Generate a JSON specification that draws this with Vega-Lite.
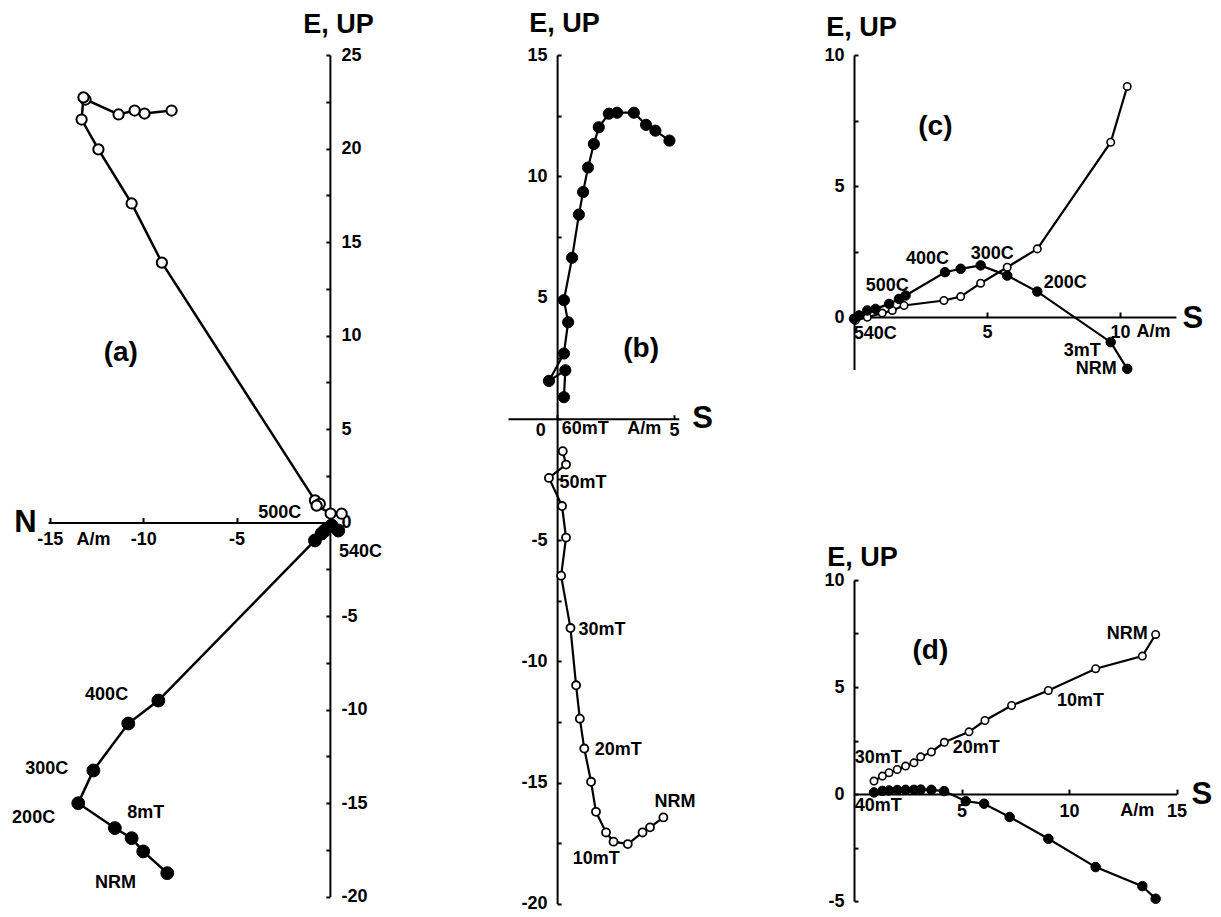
{
  "$schema": "https://vega.github.io/schema/vega-lite/v6.json",
  "background": "white",
  "padding": {"left": 12, "top": 9, "right": 5, "bottom": 5},
  "config": {
    "view": {"stroke": null},
    "font": "Liberation Sans",
    "axis": {"grid": false, "domainColor": "black", "domainWidth": 2, "tickColor": "black", "tickWidth": 2, "labelColor": "black", "labelFont": "Liberation Sans", "labelFontSize": 18, "labelFontWeight": "bold", "labelFlush": false, "labelOverlap": false, "titleColor": "black", "titleFont": "Liberation Sans"},
    "text": {"font": "Liberation Sans", "color": "black"}
  },
  "datasets": {
    "a": [
      {"s":"open","i":1,"u":-8.48,"v":22.03},{"s":"open","i":2,"u":-9.93,"v":21.87},{"s":"open","i":3,"u":-10.46,"v":22.03},{"s":"open","i":4,"u":-11.32,"v":21.82},{"s":"open","i":5,"u":-13.09,"v":22.62},{"s":"open","i":6,"u":-13.2,"v":22.73},{"s":"open","i":7,"u":-13.3,"v":21.55},{"s":"open","i":8,"u":-12.4,"v":19.95},{"s":"open","i":9,"u":-10.62,"v":17.06},{"s":"open","i":10,"u":-9.0,"v":13.9},{"s":"open","i":11,"u":-0.8,"v":1.18},{"s":"open","i":12,"u":-0.54,"v":1.0},{"s":"open","i":13,"u":-0.71,"v":0.9},{"s":"open","i":14,"u":0.04,"v":0.48},{"s":"open","i":15,"u":0.63,"v":0.47},
      {"s":"filled","i":1,"u":-8.71,"v":-18.75},{"s":"filled","i":2,"u":-10.0,"v":-17.59},{"s":"filled","i":3,"u":-10.62,"v":-16.88},{"s":"filled","i":4,"u":-11.52,"v":-16.34},{"s":"filled","i":5,"u":-13.48,"v":-15.01},{"s":"filled","i":6,"u":-12.67,"v":-13.26},{"s":"filled","i":7,"u":-10.8,"v":-10.75},{"s":"filled","i":8,"u":-9.19,"v":-9.52},{"s":"filled","i":9,"u":-0.8,"v":-0.96},{"s":"filled","i":10,"u":-0.44,"v":-0.59},{"s":"filled","i":11,"u":-0.27,"v":-0.43},{"s":"filled","i":12,"u":0.09,"v":-0.16},{"s":"filled","i":13,"u":0.45,"v":-0.43}
    ],
    "a_lab": [
      {"k":"lab","t":"500C","u":-2.69,"v":0.53},{"k":"lab","t":"540C","u":1.64,"v":-1.6},{"k":"lab","t":"400C","u":-11.96,"v":-9.25},{"k":"lab","t":"300C","u":-15.17,"v":-13.16},{"k":"lab","t":"200C","u":-15.87,"v":-15.78},{"k":"lab","t":"8mT","u":-9.87,"v":-15.56},{"k":"lab","t":"NRM","u":-11.48,"v":-19.3},{"k":"lab","t":"A/m","u":-12.66,"v":-0.91},{"k":"tag","t":"(a)","u":-11.2,"v":9.09}
    ],
    "b": [
      {"s":"filled","i":1,"u":4.8,"v":11.47},{"s":"filled","i":2,"u":4.2,"v":11.88},{"s":"filled","i":3,"u":3.8,"v":12.12},{"s":"filled","i":4,"u":3.28,"v":12.62},{"s":"filled","i":5,"u":2.56,"v":12.62},{"s":"filled","i":6,"u":2.21,"v":12.58},{"s":"filled","i":7,"u":1.78,"v":12.02},{"s":"filled","i":8,"u":1.57,"v":11.33},{"s":"filled","i":9,"u":1.32,"v":10.36},{"s":"filled","i":10,"u":1.11,"v":9.35},{"s":"filled","i":11,"u":0.93,"v":8.42},{"s":"filled","i":12,"u":0.64,"v":6.64},{"s":"filled","i":13,"u":0.29,"v":4.89},{"s":"filled","i":14,"u":0.47,"v":3.98},{"s":"filled","i":15,"u":0.29,"v":2.69},{"s":"filled","i":16,"u":-0.35,"v":1.56},{"s":"filled","i":17,"u":0.35,"v":2.0},{"s":"filled","i":18,"u":0.29,"v":0.89},
      {"s":"open","i":1,"u":4.54,"v":-16.44},{"s":"open","i":2,"u":3.97,"v":-16.85},{"s":"open","i":3,"u":3.65,"v":-17.06},{"s":"open","i":4,"u":3.02,"v":-17.54},{"s":"open","i":5,"u":2.41,"v":-17.44},{"s":"open","i":6,"u":2.09,"v":-17.06},{"s":"open","i":7,"u":1.66,"v":-16.21},{"s":"open","i":8,"u":1.45,"v":-14.97},{"s":"open","i":9,"u":1.16,"v":-13.6},{"s":"open","i":10,"u":0.97,"v":-12.37},{"s":"open","i":11,"u":0.81,"v":-10.99},{"s":"open","i":12,"u":0.57,"v":-8.63},{"s":"open","i":13,"u":0.17,"v":-6.47},{"s":"open","i":14,"u":0.38,"v":-4.9},{"s":"open","i":15,"u":0.21,"v":-3.6},{"s":"open","i":16,"u":-0.35,"v":-2.44},{"s":"open","i":17,"u":0.38,"v":-1.89},{"s":"open","i":18,"u":0.24,"v":-1.34}
    ],
    "b_lab": [
      {"k":"lab","t":"60mT","u":1.2,"v":-0.41},{"k":"lab","t":"A/m","u":3.72,"v":-0.41},{"k":"lab","t":"50mT","u":1.11,"v":-2.67},{"k":"lab","t":"30mT","u":1.92,"v":-8.71},{"k":"lab","t":"20mT","u":2.61,"v":-13.65},{"k":"lab","t":"10mT","u":1.67,"v":-18.17},{"k":"lab","t":"NRM","u":5.04,"v":-15.82},{"k":"tag","t":"(b)","u":3.59,"v":2.89}
    ],
    "c": [
      {"s":"open","i":1,"u":10.27,"v":8.8},{"s":"open","i":2,"u":9.65,"v":6.67},{"s":"open","i":3,"u":6.89,"v":2.6},{"s":"open","i":4,"u":5.76,"v":1.9},{"s":"open","i":5,"u":4.76,"v":1.29},{"s":"open","i":6,"u":4.01,"v":0.78},{"s":"open","i":7,"u":3.38,"v":0.63},{"s":"open","i":8,"u":1.88,"v":0.44},{"s":"open","i":9,"u":1.44,"v":0.25},{"s":"open","i":10,"u":1.06,"v":0.15},{"s":"open","i":11,"u":0.5,"v":-0.01},{"s":"open","i":12,"u":0.05,"v":-0.13},
      {"s":"filled","i":1,"u":10.27,"v":-1.98},{"s":"filled","i":2,"u":9.65,"v":-0.96},{"s":"filled","i":3,"u":6.89,"v":0.97},{"s":"filled","i":4,"u":5.76,"v":1.58},{"s":"filled","i":5,"u":4.76,"v":1.97},{"s":"filled","i":6,"u":4.01,"v":1.84},{"s":"filled","i":7,"u":3.42,"v":1.71},{"s":"filled","i":8,"u":1.94,"v":0.82},{"s":"filled","i":9,"u":1.69,"v":0.69},{"s":"filled","i":10,"u":1.32,"v":0.5},{"s":"filled","i":11,"u":0.81,"v":0.31},{"s":"filled","i":12,"u":0.5,"v":0.25},{"s":"filled","i":13,"u":0.19,"v":0.06},{"s":"filled","i":14,"u":0.0,"v":-0.07}
    ],
    "c_lab": [
      {"k":"lab","t":"400C","u":2.76,"v":2.23},{"k":"lab","t":"300C","u":5.2,"v":2.42},{"k":"lab","t":"200C","u":7.94,"v":1.28},{"k":"lab","t":"500C","u":1.25,"v":1.2},{"k":"lab","t":"540C","u":0.8,"v":-0.63},{"k":"lab","t":"3mT","u":8.58,"v":-1.28},{"k":"lab","t":"NRM","u":9.11,"v":-1.97},{"k":"lab","t":"A/m","u":11.26,"v":-0.59},{"k":"tag","t":"(c)","u":3.06,"v":7.27}
    ],
    "d": [
      {"s":"open","i":1,"u":14.03,"v":7.46},{"s":"open","i":2,"u":13.41,"v":6.45},{"s":"open","i":3,"u":11.24,"v":5.86},{"s":"open","i":4,"u":9.04,"v":4.84},{"s":"open","i":5,"u":7.33,"v":4.14},{"s":"open","i":6,"u":6.09,"v":3.44},{"s":"open","i":7,"u":5.35,"v":2.91},{"s":"open","i":8,"u":4.2,"v":2.42},{"s":"open","i":9,"u":3.6,"v":1.97},{"s":"open","i":10,"u":3.1,"v":1.74},{"s":"open","i":11,"u":2.79,"v":1.46},{"s":"open","i":12,"u":2.4,"v":1.31},{"s":"open","i":13,"u":2.01,"v":1.15},{"s":"open","i":14,"u":1.63,"v":1.0},{"s":"open","i":15,"u":1.32,"v":0.84},{"s":"open","i":16,"u":0.93,"v":0.61},
      {"s":"filled","i":1,"u":14.03,"v":-4.89},{"s":"filled","i":2,"u":13.41,"v":-4.3},{"s":"filled","i":3,"u":11.24,"v":-3.41},{"s":"filled","i":4,"u":9.04,"v":-2.09},{"s":"filled","i":5,"u":7.24,"v":-1.07},{"s":"filled","i":6,"u":6.05,"v":-0.45},{"s":"filled","i":7,"u":5.2,"v":-0.33},{"s":"filled","i":8,"u":4.19,"v":0.14},{"s":"filled","i":9,"u":3.6,"v":0.2},{"s":"filled","i":10,"u":3.1,"v":0.21},{"s":"filled","i":11,"u":2.79,"v":0.2},{"s":"filled","i":12,"u":2.4,"v":0.2},{"s":"filled","i":13,"u":2.01,"v":0.19},{"s":"filled","i":14,"u":1.63,"v":0.17},{"s":"filled","i":15,"u":1.32,"v":0.15},{"s":"filled","i":16,"u":0.93,"v":0.08}
    ],
    "d_lab": [
      {"k":"lab","t":"NRM","u":12.71,"v":7.48},{"k":"lab","t":"10mT","u":10.53,"v":4.35},{"k":"lab","t":"20mT","u":5.69,"v":2.15},{"k":"lab","t":"30mT","u":1.13,"v":1.68},{"k":"lab","t":"40mT","u":1.13,"v":-0.56},{"k":"lab","t":"A/m","u":13.18,"v":-0.79},{"k":"tag","t":"(d)","u":3.55,"v":6.68}
    ]
  },
  "bounds": "flush",
  "spacing": 175,
  "hconcat": [
    {
      "width": 284.5,
      "height": 841.5,
      "encoding": {
        "x": {"field": "u", "type": "quantitative", "scale": {"domain": [-15.1, 0.14], "nice": false, "zero": false},
              "axis": {"orient": "bottom", "offset": -374, "values": [-15, -10, -5], "labelExpr": "'' + datum.value", "labelFont": "Liberation Sans", "labelFontSize": 18, "labelFontWeight": "bold", "labelColor": "black", "tickSize": -5, "labelPadding": 13, "title": "N", "titleAngle": 0, "titleX": -23, "titleY": 0, "titleAlign": "center", "titleBaseline": "middle", "titleFontSize": 31, "titleFontWeight": "bold"}},
        "y": {"field": "v", "type": "quantitative", "scale": {"domain": [-20, 25], "nice": false, "zero": false},
              "axis": {"orient": "right", "offset": -2.6, "values": [-20, -17.5, -15, -12.5, -10, -7.5, -5, -2.5, 0, 2.5, 5, 7.5, 10, 12.5, 15, 17.5, 20, 22.5, 25], "labelExpr": "datum.value % 5 == 0 ? '' + datum.value : ''", "labelFont": "Liberation Sans", "labelFontSize": 18, "labelFontWeight": "bold", "labelColor": "black", "tickSize": -4, "labelPadding": 15, "title": "E, UP", "titleAngle": 0, "titleX": 8, "titleY": -31, "titleAlign": "center", "titleBaseline": "middle", "titleFontSize": 27, "titleFontWeight": "bold"}}
      },
      "layer": [
        {"data": {"name": "a"}, "mark": {"type": "line", "color": "black", "strokeWidth": 2.5}, "encoding": {"detail": {"field": "s"}, "order": {"field": "i", "type": "quantitative"}}},
        {"data": {"name": "a"}, "transform": [{"filter": "datum.s == 'open'"}], "mark": {"type": "point", "shape": "circle", "filled": true, "fill": "white", "stroke": "black", "strokeWidth": 2, "size": 105, "opacity": 1}},
        {"data": {"name": "a"}, "transform": [{"filter": "datum.s == 'filled'"}], "mark": {"type": "point", "shape": "circle", "filled": true, "fill": "black", "stroke": "black", "strokeWidth": 1, "size": 165, "opacity": 1}},
        {"data": {"name": "a_lab"}, "transform": [{"filter": "datum.k == 'lab'"}], "mark": {"type": "text", "fontSize": 18, "fontWeight": "bold", "align": "center", "baseline": "middle"}, "encoding": {"text": {"field": "t"}}},
        {"data": {"name": "a_lab"}, "transform": [{"filter": "datum.k == 'tag'"}], "mark": {"type": "text", "fontSize": 28, "fontWeight": "bold", "align": "center", "baseline": "middle"}, "encoding": {"text": {"field": "t"}}}
      ]
    },
    {
      "width": 170.8,
      "height": 848.75,
      "encoding": {
        "x": {"field": "u", "type": "quantitative", "scale": {"domain": [-2.1, 5.2], "nice": false, "zero": false},
              "axis": {"orient": "bottom", "offset": -485, "values": [0, 5], "labelExpr": "'' + datum.value", "labelFont": "Liberation Sans", "labelFontSize": 18, "labelFontWeight": "bold", "labelColor": "black", "tickSize": -4, "labelPadding": 7, "labelOffset": {"condition": {"test": "datum.value == 0", "value": -17}, "value": 0}, "title": "S", "titleAngle": 0, "titleX": 194, "titleY": 0, "titleAlign": "center", "titleBaseline": "middle", "titleFontSize": 31, "titleFontWeight": "bold"}},
        "y": {"field": "v", "type": "quantitative", "scale": {"domain": [-20, 15], "nice": false, "zero": false},
              "axis": {"orient": "left", "offset": -49.1, "values": [-20, -17.5, -15, -12.5, -10, -7.5, -5, -2.5, 0, 2.5, 5, 7.5, 10, 12.5, 15], "labelExpr": "datum.value % 5 == 0 && datum.value != 0 ? '' + datum.value : ''", "labelFont": "Liberation Sans", "labelFontSize": 18, "labelFontWeight": "bold", "labelColor": "black", "tickSize": -4, "labelPadding": 14, "title": "E, UP", "titleAngle": 0, "titleX": 7, "titleY": -31.5, "titleAlign": "center", "titleBaseline": "middle", "titleFontSize": 27, "titleFontWeight": "bold"}}
      },
      "layer": [
        {"data": {"name": "b"}, "mark": {"type": "line", "color": "black", "strokeWidth": 2.2}, "encoding": {"detail": {"field": "s"}, "order": {"field": "i", "type": "quantitative"}}},
        {"data": {"name": "b"}, "transform": [{"filter": "datum.s == 'open'"}], "mark": {"type": "point", "shape": "circle", "filled": true, "fill": "white", "stroke": "black", "strokeWidth": 1.8, "size": 65, "opacity": 1}},
        {"data": {"name": "b"}, "transform": [{"filter": "datum.s == 'filled'"}], "mark": {"type": "point", "shape": "circle", "filled": true, "fill": "black", "stroke": "black", "strokeWidth": 1, "size": 125, "opacity": 1}},
        {"data": {"name": "b_lab"}, "transform": [{"filter": "datum.k == 'lab'"}], "mark": {"type": "text", "fontSize": 18, "fontWeight": "bold", "align": "center", "baseline": "middle"}, "encoding": {"text": {"field": "t"}}},
        {"data": {"name": "b_lab"}, "transform": [{"filter": "datum.k == 'tag'"}], "mark": {"type": "text", "fontSize": 28, "fontWeight": "bold", "align": "center", "baseline": "middle"}, "encoding": {"text": {"field": "t"}}}
      ]
    },
    {
      "bounds": "flush",
      "spacing": 210.1,
      "vconcat": [
        {
          "width": 321.9,
          "height": 314.4,
          "encoding": {
            "x": {"field": "u", "type": "quantitative", "scale": {"domain": [0, 12.1], "nice": false, "zero": false},
                  "axis": {"orient": "bottom", "offset": -52.4, "values": [5, 10], "labelExpr": "'' + datum.value", "labelFont": "Liberation Sans", "labelFontSize": 18, "labelFontWeight": "bold", "labelColor": "black", "tickSize": -5, "labelPadding": 11, "title": "S", "titleAngle": 0, "titleX": 338.3, "titleY": 1.5, "titleAlign": "center", "titleBaseline": "middle", "titleFontSize": 31, "titleFontWeight": "bold"}},
            "y": {"field": "v", "type": "quantitative", "scale": {"domain": [-2, 10], "nice": false, "zero": false},
                  "axis": {"orient": "left", "offset": 0, "values": [0, 2.5, 5, 7.5, 10], "labelExpr": "datum.value % 5 == 0 ? '' + datum.value : ''", "labelFont": "Liberation Sans", "labelFontSize": 18, "labelFontWeight": "bold", "labelColor": "black", "tickSize": -4, "labelPadding": 14, "title": "E, UP", "titleAngle": 0, "titleX": 7, "titleY": -27.5, "titleAlign": "center", "titleBaseline": "middle", "titleFontSize": 27, "titleFontWeight": "bold"}}
          },
          "layer": [
            {"data": {"name": "c"}, "mark": {"type": "line", "color": "black", "strokeWidth": 2.2}, "encoding": {"detail": {"field": "s"}, "order": {"field": "i", "type": "quantitative"}}},
            {"data": {"name": "c"}, "transform": [{"filter": "datum.s == 'open'"}], "mark": {"type": "point", "shape": "circle", "filled": true, "fill": "white", "stroke": "black", "strokeWidth": 1.6, "size": 55, "opacity": 1}},
            {"data": {"name": "c"}, "transform": [{"filter": "datum.s == 'filled'"}], "mark": {"type": "point", "shape": "circle", "filled": true, "fill": "black", "stroke": "black", "strokeWidth": 1, "size": 90, "opacity": 1}},
            {"data": {"name": "c_lab"}, "transform": [{"filter": "datum.k == 'lab'"}], "mark": {"type": "text", "fontSize": 18, "fontWeight": "bold", "align": "center", "baseline": "middle"}, "encoding": {"text": {"field": "t"}}},
            {"data": {"name": "c_lab"}, "transform": [{"filter": "datum.k == 'tag'"}], "mark": {"type": "text", "fontSize": 28, "fontWeight": "bold", "align": "center", "baseline": "middle"}, "encoding": {"text": {"field": "t"}}}
          ]
        },
        {
          "width": 322.5,
          "height": 321,
          "encoding": {
            "x": {"field": "u", "type": "quantitative", "scale": {"domain": [0, 15], "nice": false, "zero": false},
                  "axis": {"orient": "bottom", "offset": -107, "values": [5, 10, 15], "labelExpr": "'' + datum.value", "labelFont": "Liberation Sans", "labelFontSize": 18, "labelFontWeight": "bold", "labelColor": "black", "tickSize": -5, "labelPadding": 13, "title": "S", "titleAngle": 0, "titleX": 347.3, "titleY": 0, "titleAlign": "center", "titleBaseline": "middle", "titleFontSize": 31, "titleFontWeight": "bold"}},
            "y": {"field": "v", "type": "quantitative", "scale": {"domain": [-5, 10], "nice": false, "zero": false},
                  "axis": {"orient": "left", "offset": 0, "values": [-5, -2.5, 0, 2.5, 5, 7.5, 10], "labelExpr": "datum.value % 5 == 0 ? '' + datum.value : ''", "labelFont": "Liberation Sans", "labelFontSize": 18, "labelFontWeight": "bold", "labelColor": "black", "tickSize": -4, "labelPadding": 14, "title": "E, UP", "titleAngle": 0, "titleX": 8, "titleY": -23, "titleAlign": "center", "titleBaseline": "middle", "titleFontSize": 27, "titleFontWeight": "bold"}}
          },
          "layer": [
            {"data": {"name": "d"}, "mark": {"type": "line", "color": "black", "strokeWidth": 2.2}, "encoding": {"detail": {"field": "s"}, "order": {"field": "i", "type": "quantitative"}}},
            {"data": {"name": "d"}, "transform": [{"filter": "datum.s == 'open'"}], "mark": {"type": "point", "shape": "circle", "filled": true, "fill": "white", "stroke": "black", "strokeWidth": 1.6, "size": 55, "opacity": 1}},
            {"data": {"name": "d"}, "transform": [{"filter": "datum.s == 'filled'"}], "mark": {"type": "point", "shape": "circle", "filled": true, "fill": "black", "stroke": "black", "strokeWidth": 1, "size": 90, "opacity": 1}},
            {"data": {"name": "d_lab"}, "transform": [{"filter": "datum.k == 'lab'"}], "mark": {"type": "text", "fontSize": 18, "fontWeight": "bold", "align": "center", "baseline": "middle"}, "encoding": {"text": {"field": "t"}}},
            {"data": {"name": "d_lab"}, "transform": [{"filter": "datum.k == 'tag'"}], "mark": {"type": "text", "fontSize": 28, "fontWeight": "bold", "align": "center", "baseline": "middle"}, "encoding": {"text": {"field": "t"}}}
          ]
        }
      ]
    }
  ]
}
